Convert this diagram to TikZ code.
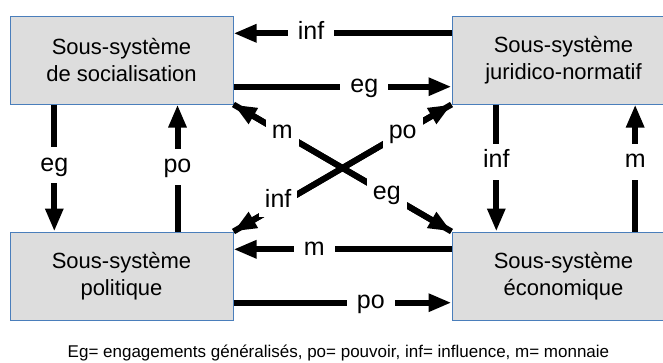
\documentclass[tikz,border=0pt]{standalone}
\usepackage{fontspec}
\setmainfont{Liberation Sans}
\usetikzlibrary{arrows.meta,calc}
\definecolor{boxgray}{HTML}{DDDDDD}
\definecolor{boxblue}{HTML}{4A7EBB}
\tikzset{
  sysbox/.style={draw=boxblue, line width=1pt, fill=boxgray, minimum width=223pt, minimum height=88pt,
    inner sep=0pt, align=center, font=\fontsize{22}{27}\selectfont},
  arr/.style={line width=6pt, -{Triangle[length=23pt,width=17pt]}},
  lab/.style={fill=white, inner xsep=10pt, inner ysep=6pt, text height=18pt, text depth=6pt,
    font=\fontsize{25}{30}\selectfont},
  dlab/.style={fill=white, inner xsep=6pt, inner ysep=4pt, text height=18pt, text depth=6pt,
    font=\fontsize{25}{30}\selectfont},
  legendtext/.style={font=\fontsize{17}{20}\selectfont, anchor=base, inner sep=0pt}
}
\begin{document}
\begin{tikzpicture}[x=1pt, y=-1pt]
\useasboundingbox (0,0) rectangle (663,362);
\clip (0,0) rectangle (663,362);
% boxes
\node[sysbox] (TL) at (121.5,60) {Sous-système\\de socialisation};
\node[sysbox] (TR) at (563.5,60) {Sous-système\\juridico-normatif};
\node[sysbox] (BL) at (121.5,276) {Sous-système\\politique};
\node[sysbox] (BR) at (563.5,276) {Sous-système\\économique};
% anchor points on box sides
\coordinate (TLe1) at ($(TL.north east)!0.2!(TL.south east)$);
\coordinate (TLe2) at ($(TL.north east)!0.8!(TL.south east)$);
\coordinate (TRw1) at ($(TR.north west)!0.2!(TR.south west)$);
\coordinate (TRw2) at ($(TR.north west)!0.8!(TR.south west)$);
\coordinate (BLe1) at ($(BL.north east)!0.2!(BL.south east)$);
\coordinate (BLe2) at ($(BL.north east)!0.8!(BL.south east)$);
\coordinate (BRw1) at ($(BR.north west)!0.2!(BR.south west)$);
\coordinate (BRw2) at ($(BR.north west)!0.8!(BR.south west)$);
\coordinate (TLs1) at ($(TL.south west)!0.2!(TL.south east)$);
\coordinate (TLs2) at ($(TL.south west)!0.75!(TL.south east)$);
\coordinate (BLn1) at ($(BL.north west)!0.2!(BL.north east)$);
\coordinate (BLn2) at ($(BL.north west)!0.75!(BL.north east)$);
\coordinate (TRs1) at ($(TR.south west)!0.2!(TR.south east)$);
\coordinate (TRs2) at ($(TR.south west)!0.82!(TR.south east)$);
\coordinate (BRn1) at ($(BR.north west)!0.2!(BR.north east)$);
\coordinate (BRn2) at ($(BR.north west)!0.82!(BR.north east)$);
% horizontal connectors
\draw[arr] (TRw1) -- node[lab, pos=0.644] (linf) {inf} (TLe1);
\draw[arr] (TLe2) -- node[lab, pos=0.6] (leg) {eg} (TRw2);
\draw[arr] (BRw1) -- node[lab, pos=0.63] (lm) {m} (BLe1);
\draw[arr] (BLe2) -- node[lab, pos=0.63] (lpo) {po} (BRw2);
% vertical connectors
\draw[arr] (TLs1) -- node[lab, pos=0.48] (veg) {eg} (BLn1);
\draw[arr] (BLn2) -- node[lab, pos=0.51] (vpo) {po} (TLs2);
\draw[arr] (TRs1) -- node[lab, pos=0.45] (vinf) {inf} (BRn1);
\draw[arr] (BRn2) -- node[lab, pos=0.55] (vm) {m} (TRs2);
% diagonal connectors
\draw[arr] (BR.north west) -- (TL.south east);
\draw[arr] (TL.south east) -- (BR.north west);
\draw[arr] (BL.north east) -- (TR.south west);
\draw[arr] (TR.south west) -- (BL.north east);
\path (TL.south east) -- node[dlab, pos=0.224] (dm) {m} node[dlab, pos=0.703] (deg) {eg} (BR.north west);
\path (BL.north east) -- node[dlab, pos=0.205, yshift=4pt] (dinf) {inf} node[dlab, pos=0.776] (dpo) {po} (TR.south west);
% legend
\node[legendtext] (legend) at (338.5,357.5) {Eg= engagements généralisés, po= pouvoir, inf= influence, m= monnaie};
\end{tikzpicture}
\end{document}
